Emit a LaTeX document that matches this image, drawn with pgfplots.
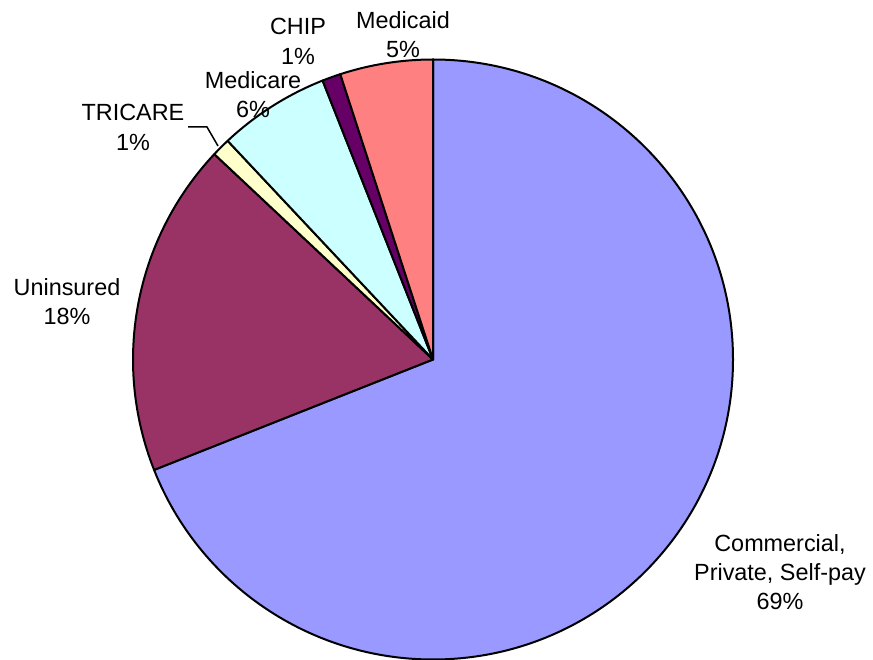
\documentclass[border=0pt]{standalone}
\usepackage{pgfplots}
\pgfplotsset{compat=1.18}
\usepackage{fontspec}
\setmainfont{Liberation Sans}

% Excel-style palette
\definecolor{cComm}{HTML}{9999FF}
\definecolor{cUnin}{HTML}{993366}
\definecolor{cTric}{HTML}{FFFFCC}
\definecolor{cMedicare}{HTML}{CCFFFF}
\definecolor{cChip}{HTML}{660066}
\definecolor{cMedicaid}{HTML}{FF8080}

% pie centre and radius in axis units (1 unit = 0.5pt)
\def\cx{433}
\def\cy{299.5}
\def\rad{150pt}

% \slice{cumulative % before}{share %}{colour}, clockwise from 12 o'clock
\newcommand\slice[3]{%
  \draw[fill=#3, line width=1pt, line join=round]
    (axis cs:\cx,\cy) -- ++({90-3.6*(#1)}:\rad)
    arc[start angle={90-3.6*(#1)}, end angle={90-3.6*(#1+#2)}, radius=\rad]
    -- cycle;}

\tikzset{lbl/.style={font=\fontsize{11.7}{14.6}\selectfont, align=center, inner sep=0pt}}

\begin{document}
\begin{tikzpicture}
\begin{axis}[
    x=0.5pt, y=0.5pt,
    xmin=0, xmax=873, ymin=0, ymax=659,
    hide axis,
    clip=true,
]
\path (rel axis cs:0,0) rectangle (rel axis cs:1,1);

\slice{0}{69}{cComm}
\slice{69}{18}{cUnin}
\slice{87}{1}{cTric}
\slice{88}{6}{cMedicare}
\slice{94}{1}{cChip}
\slice{95}{5}{cMedicaid}

\node[lbl] at (axis cs:780,87) {Commercial,\\Private, Self-pay\\69\%};
\node[lbl] at (axis cs:67,357.5) {Uninsured\\18\%};
\node[lbl] at (axis cs:133,531.5) {TRICARE\\1\%};
\node[lbl] at (axis cs:253,564) {Medicare\\6\%};
\node[lbl] at (axis cs:298,617.5) {CHIP\\1\%};
\node[lbl] at (axis cs:403,624.5) {Medicaid\\5\%};

\draw[line width=0.75pt] (axis cs:188,532) -- (axis cs:207,532) -- (axis cs:218,513);
\end{axis}
\end{tikzpicture}
\end{document}
